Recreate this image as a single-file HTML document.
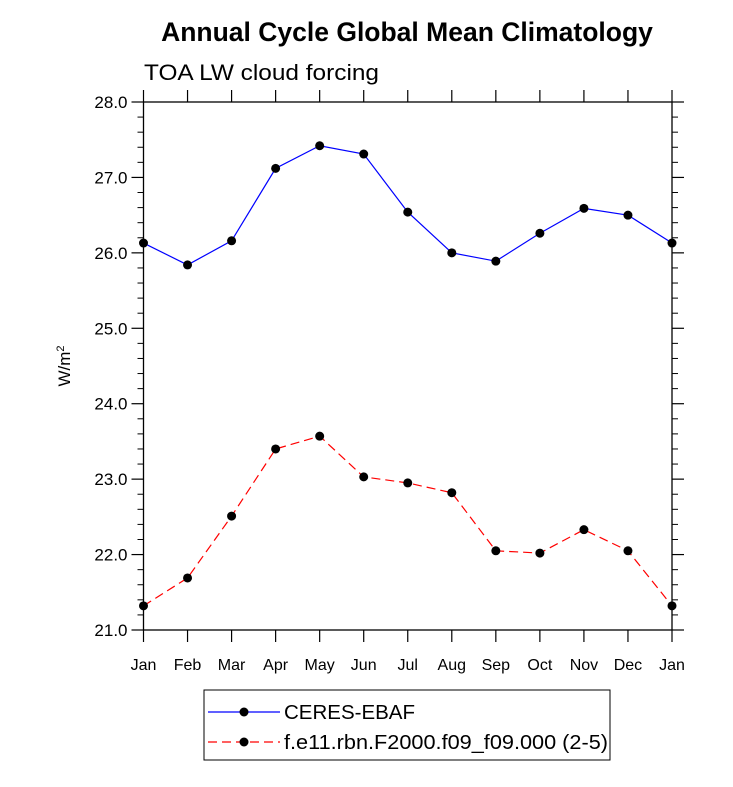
<!DOCTYPE html>
<html><head><meta charset="utf-8"><style>body{margin:0;background:#fff}svg{font-family:"Liberation Sans",sans-serif}</style></head>
<body>
<svg id="chart" width="733" height="782" xmlns="http://www.w3.org/2000/svg">
<text x="407" y="41" text-anchor="middle" font-size="26.5" font-weight="bold">Annual Cycle Global Mean Climatology</text>
<text x="144" y="80" font-size="22" textLength="235" lengthAdjust="spacingAndGlyphs">TOA LW cloud forcing</text>
<text transform="translate(70,366) rotate(-90)" text-anchor="middle" font-size="17">W/m<tspan dy="-6" font-size="11">2</tspan></text>
<g id="axes"></g>
<g id="series"></g>
<g>
<rect x="204" y="690" width="406" height="70" fill="none" stroke="#000" stroke-width="1"/>
<line x1="208" y1="712" x2="280" y2="712" stroke="#00f" stroke-width="1.2"/>
<circle cx="244" cy="712" r="4.5" fill="#000"/>
<text x="284" y="719" font-size="20.5">CERES-EBAF</text>
<line x1="208" y1="742" x2="280" y2="742" stroke="#f00" stroke-width="1.2" stroke-dasharray="9,5"/>
<circle cx="244" cy="742" r="4.5" fill="#000"/>
<text x="284" y="749" font-size="20.5" textLength="324" lengthAdjust="spacingAndGlyphs">f.e11.rbn.F2000.f09_f09.000 (2-5)</text>
</g>
</svg>
<script>
const months=["Jan","Feb","Mar","Apr","May","Jun","Jul","Aug","Sep","Oct","Nov","Dec","Jan"];
const ceres=[26.13,25.84,26.16,27.12,27.42,27.31,26.54,26.0,25.89,26.26,26.59,26.50,26.13];
const model=[21.32,21.69,22.51,23.40,23.57,23.03,22.95,22.82,22.05,22.02,22.33,22.05,21.32];
const yTicks=[21,22,23,24,25,26,27,28];
const NS="http://www.w3.org/2000/svg";
const X0=143.5,X1=672,Y0=630,Y1=102,YMIN=21,YMAX=28;
const xs=i=>X0+(X1-X0)*i/(months.length-1);
const ys=v=>Y0-(v-YMIN)/(YMAX-YMIN)*(Y0-Y1);
function mk(t,a,p){const e=document.createElementNS(NS,t);for(const k in a)e.setAttribute(k,a[k]);p.appendChild(e);return e;}
const ax=document.getElementById('axes');
const frame=mk('rect',{x:X0,y:Y1,width:X1-X0,height:Y0-Y1,fill:'none',stroke:'#000','stroke-width':1.3},ax);


months.forEach((m,i)=>{const x=xs(i);
mk('line',{x1:x,y1:Y0,x2:x,y2:Y0+12,stroke:'#000','stroke-width':1.2},ax);
mk('line',{x1:x,y1:Y1,x2:x,y2:Y1-12,stroke:'#000','stroke-width':1.2},ax);
const t=mk('text',{x:x,y:670,'text-anchor':'middle','font-size':16},ax);t.textContent=m;

});
yTicks.forEach(v=>{const y=ys(v);
mk('line',{x1:X0-12,y1:y,x2:X0,y2:y,stroke:'#000','stroke-width':1.2},ax);
mk('line',{x1:X1,y1:y,x2:X1+12,y2:y,stroke:'#000','stroke-width':1.2},ax);
const t=mk('text',{x:X0-16,y:y+6,'text-anchor':'end','font-size':17},ax);t.textContent=v.toFixed(1);


if(v<YMAX)for(let k=1;k<5;k++){const yy=ys(v+k*0.2);
mk('line',{x1:X0-6,y1:yy,x2:X0,y2:yy,stroke:'#000','stroke-width':1},ax);
mk('line',{x1:X1,y1:yy,x2:X1+6,y2:yy,stroke:'#000','stroke-width':1},ax);}});
const sg=document.getElementById('series');
function series(d,col,dash,name){
const p=mk('polyline',{points:d.map((v,i)=>xs(i)+','+ys(v)).join(' '),fill:'none',stroke:col,'stroke-width':1.2,'stroke-dasharray':dash},sg);


d.forEach((v,i)=>{const c=mk('circle',{cx:xs(i),cy:ys(v),r:4.5,fill:'#000'},sg);

});}
series(ceres,'#00f','none','ceres');
series(model,'#f00','9,5','model');
</script>
</body></html>
